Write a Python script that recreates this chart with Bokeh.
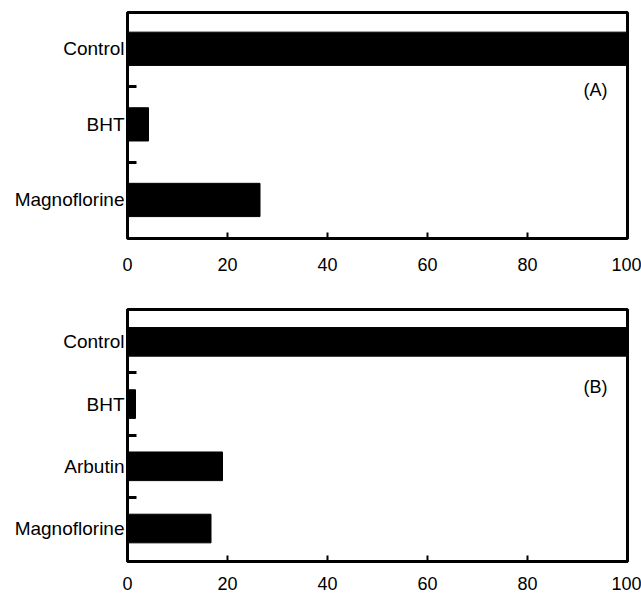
from bokeh.plotting import figure
from bokeh.layouts import column
from bokeh.models import FixedTicker, Label, ColumnDataSource, Range1d
from bokeh.embed import file_html
from bokeh.resources import INLINE

# ---- data ----
cats_a = ["Control", "BHT", "Magnoflorine"]
vals_a = [100, 4.2, 26.5]
cats_b = ["Control", "BHT", "Arbutin", "Magnoflorine"]
vals_b = [100, 1.6, 19.0, 16.7]
x_ticks = [0, 20, 40, 60, 80, 100]
panel_a = "(A)"
panel_b = "(B)"

FONT = "Liberation Sans"


def make_panel(cats, vals, tag, height, border_top, border_bottom, border_left,
               border_right, bar_h, ypad_top, ypad_bot, tag_y, x_standoff):
    n = len(cats)
    ypos = [n - i for i in range(n)]  # first category at top
    src = ColumnDataSource(dict(y=ypos, v=vals, c=cats))
    p = figure(width=641, height=height, output_backend="svg", toolbar_location=None,
               x_range=Range1d(0, 100), y_range=Range1d(1 - ypad_bot, n + ypad_top),
               min_border_top=border_top, min_border_bottom=border_bottom,
               min_border_left=border_left, min_border_right=border_right)
    p.hbar(y="y", left=0, right="v", height=bar_h, source=src,
           fill_color="black", line_color="black")
    p.grid.visible = False
    p.outline_line_color = "black"
    p.outline_line_width = 3
    p.background_fill_color = "white"
    p.border_fill_color = "white"

    xa = p.xaxis[0]
    xa.ticker = FixedTicker(ticks=x_ticks, minor_ticks=[])
    xa.axis_line_color = None
    xa.major_tick_in = 6
    xa.major_tick_out = 0
    xa.major_tick_line_width = 2
    xa.major_tick_line_color = "black"
    xa.minor_tick_line_color = None
    xa.major_label_text_font = FONT
    xa.major_label_text_font_size = "18px"
    xa.major_label_text_color = "black"
    xa.major_label_standoff = x_standoff

    ya = p.yaxis[0]
    minor = [ypos[i] - 0.5 for i in range(n - 1)]
    ya.ticker = FixedTicker(ticks=ypos, minor_ticks=minor)
    ya.major_label_overrides = {y: c for y, c in zip(ypos, cats)}
    ya.axis_line_color = None
    ya.major_tick_in = 0
    ya.major_tick_out = 0
    ya.minor_tick_in = 9
    ya.minor_tick_out = 0
    ya.minor_tick_line_width = 3
    ya.minor_tick_line_color = "black"
    ya.major_label_text_font = FONT
    ya.major_label_text_font_size = "19px"
    ya.major_label_text_color = "black"
    ya.major_label_standoff = 3

    p.add_layout(Label(x=93.6, y=tag_y, text=tag, text_font=FONT,
                       text_font_size="18px", text_align="center",
                       text_baseline="middle", text_color="black"))
    return p


pa = make_panel(cats_a, vals_a, panel_a, height=290, border_top=12, border_bottom=52,
                border_left=125, border_right=14, bar_h=0.44,
                ypad_top=0.48, ypad_bot=0.51, tag_y=2.45, x_standoff=19)
pb = make_panel(cats_b, vals_b, panel_b, height=308, border_top=19, border_bottom=37,
                border_left=127, border_right=8, bar_h=0.46,
                ypad_top=0.52, ypad_bot=0.53, tag_y=3.27, x_standoff=15)

layout = column(pa, pb, spacing=0)
open("out.html", "w").write(file_html(layout, INLINE))
